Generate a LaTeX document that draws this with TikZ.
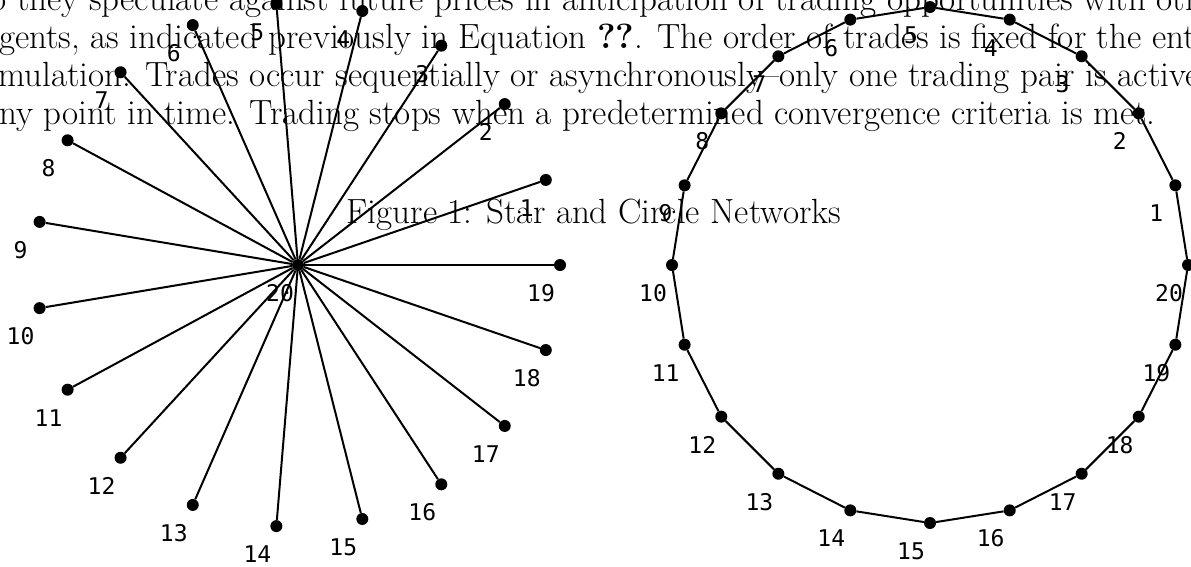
\documentclass[tikz,border=0pt]{standalone}
\usepackage{fontspec}
\newfontfamily\labfont{DejaVu Sans Mono}
\begin{document}
\begin{tikzpicture}[x=1pt,y=-1pt,
  dot/.style={circle,fill=black,inner sep=0pt,minimum size=12pt},
  lab/.style={font=\labfont\fontsize{23}{23}\selectfont,inner sep=0pt},
  body/.style={font=\fontsize{35}{38}\selectfont,inner sep=0pt},
  edge/.style={line width=2pt}]
\useasboundingbox (0,0) rectangle (1191,566);
% paragraph text behind the figure
\node[body,anchor=base west] (t1) at (-22,10) {so they speculate against future prices in anticipation of trading opportunities with other};
\node[body,anchor=base west] (t2) at (-17,48) {agents, as indicated previously in Equation \textbf{??}. The order of trades is fixed for the entire};
\node[body,anchor=base west] (t3) at (-23,86) {simulation. Trades occur sequentially or asynchronously--only one trading pair is active at};
\node[body,anchor=base west] (t4) at (-17,124) {any point in time. Trading stops when a predetermined convergence criteria is met.};
\node[body,anchor=base] (cap) at (594,223) {Figure 1: Star and Circle Networks};
% star network
\node[dot] (s20) at (298,265) {};
\node[lab] (l20) at (280,293) {20};
\foreach \k in {1,...,19}{
  \node[dot] (s\k) at ({298+262*cos(\k*360/19)},{265-262*sin(\k*360/19)}) {};
  \node[lab] (l\k) at ({279+262*cos(\k*360/19)},{293-262*sin(\k*360/19)}) {\k};
  \draw[edge] (s20) -- (s\k);
}
% circle network
\foreach \k in {1,...,20}{
  \node[dot] (c\k) at ({930+258*cos(\k*18)},{265-258*sin(\k*18)}) {};
  \node[lab] (m\k) at ({911+258*cos(\k*18)},{293-258*sin(\k*18)}) {\k};
}
\foreach \k in {1,...,20}{
  \pgfmathtruncatemacro{\nx}{mod(\k,20)+1}
  \draw[edge] (c\k) -- (c\nx);
}
\end{tikzpicture}
\end{document}
